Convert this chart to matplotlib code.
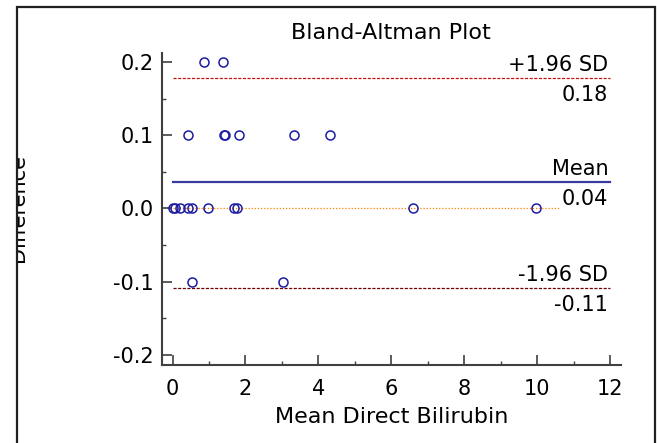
import numpy as np
import matplotlib
matplotlib.use("Agg")
import matplotlib.pyplot as plt
from matplotlib.patches import Rectangle
from matplotlib.ticker import MultipleLocator, FormatStrFormatter

plt.rcParams['font.family'] = ['DejaVu Sans']
plt.rcParams['axes.unicode_minus'] = False

# data
mean_x = [0.87, 1.38,
          0.42, 1.40, 1.45, 1.83, 3.33, 4.32,
          0.0, 0.07, 0.2, 0.43, 0.54, 0.97, 1.69, 1.78, 6.6, 9.97,
          0.53, 3.04]
diff_y = [0.2, 0.2,
          0.1, 0.1, 0.1, 0.1, 0.1, 0.1,
          0.0, 0.0, 0.0, 0.0, 0.0, 0.0, 0.0, 0.0, 0.0, 0.0,
          -0.1, -0.1]
mean_diff = 0.036
upper_sd = 0.178
lower_sd = -0.108
zero_end = 10.63

fig = plt.figure(figsize=(6.57, 4.43), dpi=100)
ax = fig.add_axes([162/657, 1-365/443, (620.7-162)/657, (365-53)/443])

ax.set_xlim(-0.29, 12.29)
ax.set_ylim(-0.2137, 0.2123)

# reference lines
ax.plot([0, 12], [upper_sd, upper_sd], color='#c01010', lw=0.9, ls=(0, (2.5, 1.2)))
ax.plot([0, 12], [lower_sd, lower_sd], color='#700000', lw=0.9, ls=(0, (2.5, 1.2)))
ax.plot([0, 12], [mean_diff, mean_diff], color='#3a3aa0', lw=1.6)
ax.plot([0, zero_end], [0, 0], color='#ff8000', lw=0.9, ls=(0, (1, 1.5)))

ax.plot(mean_x, diff_y, ls='none', marker='o', ms=6.5, mfc='none',
        mec='#1c1ca0', mew=1.1, clip_on=False, zorder=5)

fs = 15
def lab(y, top, bottom):
    ax.annotate(top, (11.95, y), xytext=(0, 5), textcoords='offset points',
                ha='right', va='baseline', fontsize=fs)
    ax.annotate(bottom, (11.95, y), xytext=(0, -5), textcoords='offset points',
                ha='right', va='top', fontsize=fs)

lab(upper_sd, '+1.96 SD', '%.2f' % upper_sd)
lab(mean_diff, 'Mean', '%.2f' % mean_diff)
lab(lower_sd, '-1.96 SD', '%.2f' % lower_sd)

ax.spines['top'].set_visible(False)
ax.spines['right'].set_visible(False)
for s in ['left', 'bottom']:
    ax.spines[s].set_linewidth(1.5)
    ax.spines[s].set_color('#404040')

ax.xaxis.set_major_locator(MultipleLocator(2))
ax.xaxis.set_minor_locator(MultipleLocator(1))
ax.yaxis.set_major_locator(MultipleLocator(0.1))
ax.yaxis.set_minor_locator(MultipleLocator(0.05))
ax.yaxis.set_major_formatter(FormatStrFormatter('%.1f'))

ax.tick_params(which='major', direction='in', length=7, width=1.2, color='#404040', labelsize=fs)
ax.tick_params(which='minor', direction='in', length=3, width=1.0, color='#404040')
ax.tick_params(axis='x', which='major', pad=10)
ax.tick_params(axis='y', which='major', pad=6)

ax.set_title('Bland-Altman Plot', fontsize=16, pad=10)
ax.set_xlabel('Mean Direct Bilirubin', fontsize=16, labelpad=6)

fig.text(28/657, 1-207.5/443, 'Difference', rotation=90, ha='right', va='center', fontsize=fs)

# white margin hides part of the label, then the frame
fig.add_artist(Rectangle((0, 0), 17/657, 1, transform=fig.transFigure,
                         facecolor='white', edgecolor='none', zorder=10))
fig.add_artist(Rectangle((17/657, -0.1), (655-17)/657, 1.1-7/443, transform=fig.transFigure,
                         facecolor='none', edgecolor='#202020', lw=1.6, zorder=11))

fig.savefig('out.png', dpi=100)
